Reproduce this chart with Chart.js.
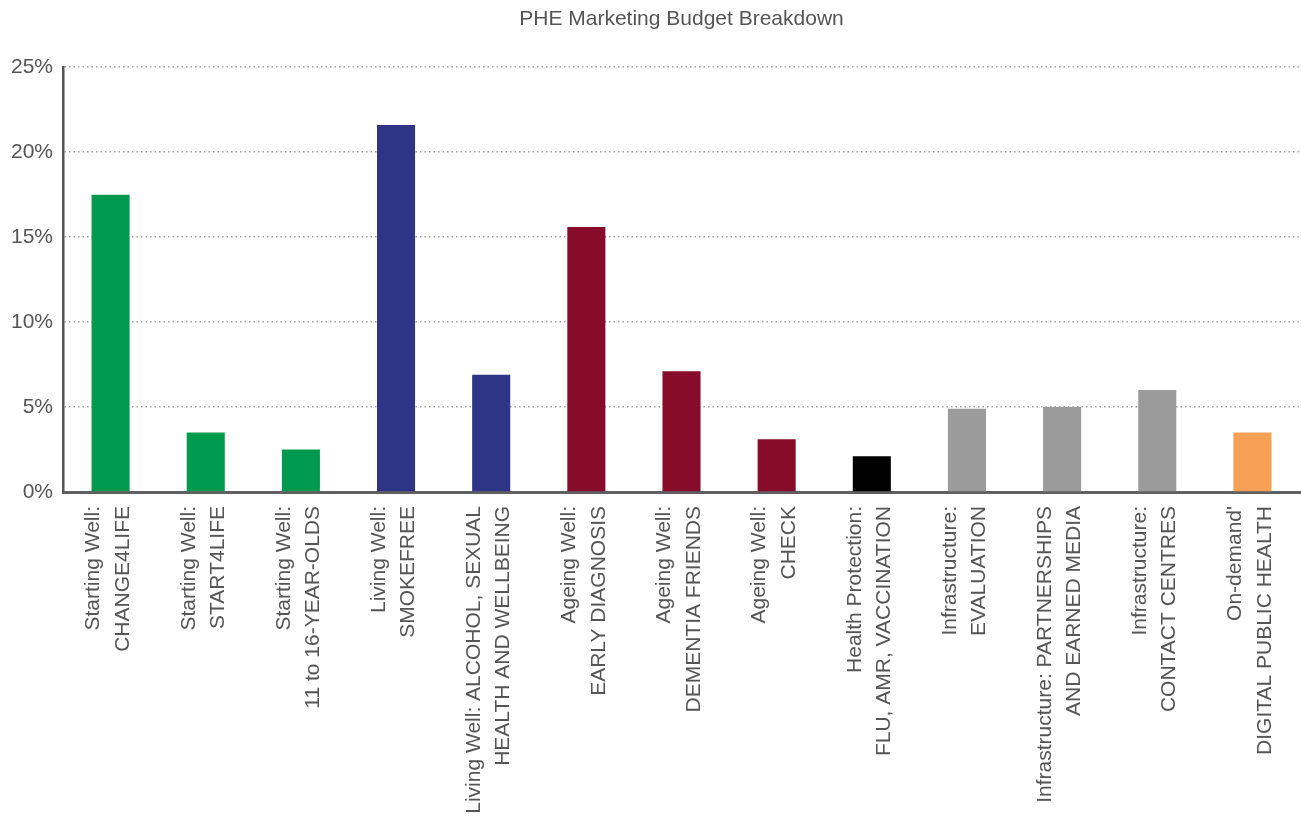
<!DOCTYPE html>
<html>
<head>
<meta charset="utf-8">
<script src="https://cdn.jsdelivr.net/npm/chart.js@4.4.1/dist/chart.umd.min.js"></script>
<style>
  html, body { margin: 0; padding: 0; background: #fff; }
  #wrap { width: 1301px; height: 817px; position: relative; }
</style>
</head>
<body>
<div id="wrap"><canvas id="c"></canvas></div>
<script>
const categories = [
  ["Starting Well:", "CHANGE4LIFE"],
  ["Starting Well:", "START4LIFE"],
  ["Starting Well:", "11 to 16-YEAR-OLDS"],
  ["Living Well:", "SMOKEFREE"],
  ["Living Well: ALCOHOL, SEXUAL", "HEALTH AND WELLBEING"],
  ["Ageing Well:", "EARLY DIAGNOSIS"],
  ["Ageing Well:", "DEMENTIA FRIENDS"],
  ["Ageing Well:", "CHECK"],
  ["Health Protection:", "FLU, AMR, VACCINATION"],
  ["Infrastructure:", "EVALUATION"],
  ["Infrastructure: PARTNERSHIPS", "AND EARNED MEDIA"],
  ["Infrastructure:", "CONTACT CENTRES"],
  ["On-demand'", "DIGITAL PUBLIC HEALTH"]
];
const budgetShare = [17.5, 3.5, 2.5, 21.6, 6.9, 15.6, 7.1, 3.1, 2.1, 4.9, 5.0, 6.0, 3.5];
const barColors = [
  "#009A4E", "#009A4E", "#009A4E",
  "#2E3586", "#2E3586",
  "#870C29", "#870C29", "#870C29",
  "#000000",
  "#9B9B9B", "#9B9B9B", "#9B9B9B",
  "#F5A055"
];
const yTicks = [0, 5, 10, 15, 20, 25];

const FONT = '"Liberation Sans", Arial, sans-serif';
const TXT = '#555555';

new Chart(document.getElementById('c'), {
  type: 'bar',
  data: {
    labels: categories,
    datasets: [{
      data: budgetShare,
      backgroundColor: barColors,
      borderWidth: 0,
      barPercentage: 0.4,
      categoryPercentage: 1.0
    }]
  },
  options: {
    responsive: true,
    maintainAspectRatio: false,
    animation: false,
    layout: { padding: { left: 0, right: 1, top: 0, bottom: 0 } },
    plugins: {
      legend: { display: false },
      tooltip: { enabled: false },
      title: {
        display: true,
        text: 'PHE Marketing Budget Breakdown',
        fullSize: false,
        color: TXT,
        font: { family: FONT, size: 21, weight: 'normal' },
        padding: { top: 7, bottom: 35 }
      }
    },
    scales: {
      x: {
        grid: { display: false, drawTicks: false },
        border: { display: true, color: '#606060', width: 3 },
        ticks: {
          autoSkip: false,
          maxRotation: 90,
          minRotation: 90,
          padding: 14,
          labelOffset: -17,
          color: TXT,
          font: { family: FONT, size: 21, lineHeight: 1.4 }
        },
        afterFit: (s) => { s.height = 325; s.paddingRight = 0; s.paddingLeft = 0; }
      },
      y: {
        min: 0,
        max: 25,
        afterBuildTicks: (s) => { s.ticks = yTicks.map(v => ({ value: v })); },
        grid: {
          color: (ctx) => ctx.tick && ctx.tick.value === 0 ? 'rgba(0,0,0,0)' : '#a0a0a0',
          lineWidth: 1.5,
          drawTicks: false
        },
        border: { display: true, color: '#555555', width: 2.5, dash: [1.5, 3] },
        ticks: {
          padding: 10,
          color: TXT,
          font: { family: FONT, size: 21 },
          callback: (v) => v + '%'
        },
        afterFit: (s) => { s.width = 63; s.paddingTop = 0; s.paddingBottom = 0; }
      }
    }
  }
});
</script>
</body>
</html>
